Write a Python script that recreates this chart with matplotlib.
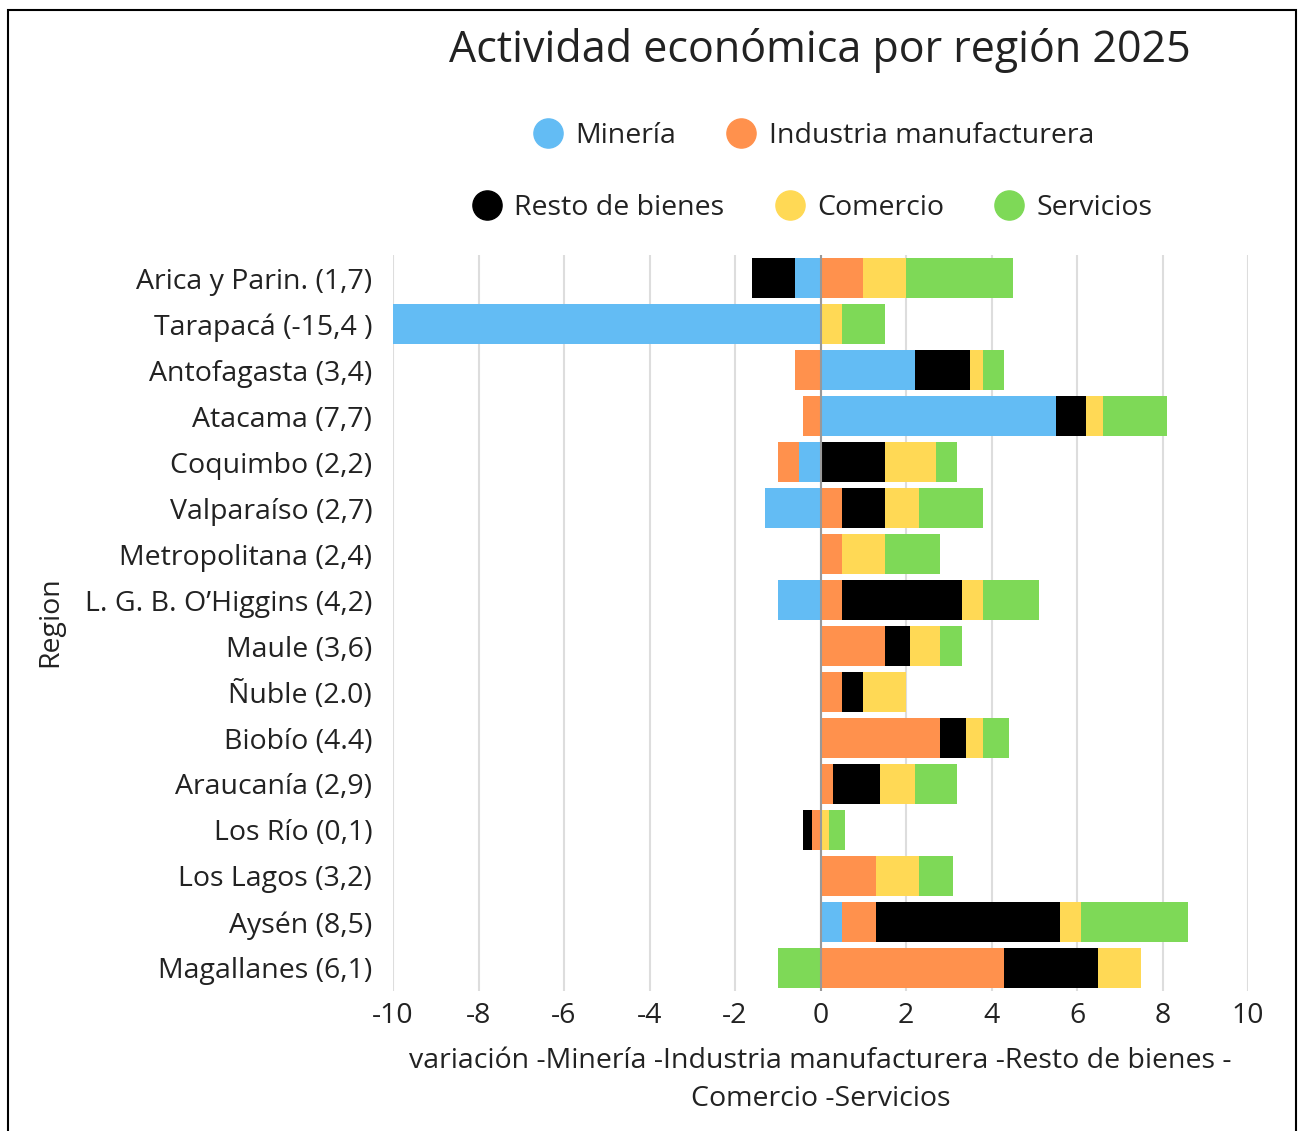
import matplotlib
matplotlib.use('Agg')
import matplotlib.pyplot as plt
from matplotlib.patches import Rectangle
from matplotlib.lines import Line2D
import numpy as np

plt.rcParams['font.family'] = ['Open Sans', 'DejaVu Sans']

regions = ['Arica y Parin. (1,7)', 'Tarapacá (-15,4 )', 'Antofagasta (3,4)', 'Atacama (7,7)',
           'Coquimbo (2,2)', 'Valparaíso (2,7)', 'Metropolitana (2,4)', 'L. G. B. O’Higgins (4,2)',
           'Maule (3,6)', 'Ñuble (2.0)', 'Biobío (4.4)', 'Araucanía (2,9)', 'Los Río (0,1)',
           'Los Lagos (3,2)', 'Aysén (8,5)', 'Magallanes (6,1)']

series_names = ['Minería', 'Industria manufacturera', 'Resto de bienes', 'Comercio', 'Servicios']
colors = ['#63BCF4', '#FF914D', '#000000', '#FFD955', '#7ED957']

mineria = [-0.6, -16.9, 2.2, 5.5, -0.5, -1.3, 0.0, -1.0, 0.0, 0.0, 0.0, 0.0, 0.0, 0.0, 0.5, 0.0]
industria = [1.0, 0.0, -0.6, -0.4, -0.5, 0.5, 0.5, 0.5, 1.5, 0.5, 2.8, 0.3, -0.2, 1.3, 0.8, 4.3]
resto = [-1.0, 0.0, 1.3, 0.7, 1.5, 1.0, 0.0, 2.8, 0.6, 0.5, 0.6, 1.1, -0.2, 0.0, 4.3, 2.2]
comercio = [1.0, 0.5, 0.3, 0.4, 1.2, 0.8, 1.0, 0.5, 0.7, 1.0, 0.4, 0.8, 0.2, 1.0, 0.5, 1.0]
servicios = [2.5, 1.0, 0.5, 1.5, 0.5, 1.5, 1.3, 1.3, 0.5, 0.0, 0.6, 1.0, 0.38, 0.8, 2.5, -1.0]

data = [mineria, industria, resto, comercio, servicios]
xticks = list(range(-10, 11, 2))

fs = 20.5
txt = '#222222'

fig = plt.figure(figsize=(12.98, 11.31), dpi=100)
ax = fig.add_axes([0.3028, 0.1238, 0.6587, 0.6507])

y = np.arange(len(regions))
pos = np.zeros(len(regions))
neg = np.zeros(len(regions))
for vals, name, c in zip(data, series_names, colors):
    v = np.array(vals)
    left = np.where(v >= 0, pos, neg)
    ax.barh(y, v, left=left, height=0.85, color=c, label=name, zorder=3)
    pos = pos + np.where(v > 0, v, 0)
    neg = neg + np.where(v < 0, v, 0)

ax.set_xlim(-10, 10)
ax.set_ylim(len(regions) - 0.5, -0.5)
ax.set_xticks(xticks)
ax.set_xticklabels([str(t) for t in xticks], fontsize=fs, color=txt)
ax.set_yticks(y)
ax.set_yticklabels(regions, fontsize=fs, color=txt)
ax.tick_params(length=0)
ax.tick_params(axis='y', pad=15)
ax.tick_params(axis='x', pad=8)
for s in ax.spines.values():
    s.set_visible(False)
ax.grid(axis='x', color='#dddddd', linewidth=1.5, zorder=0)
ax.axvline(0, color='#999999', linewidth=1.5, zorder=4)

ax.set_xlabel('variación -Minería -Industria manufacturera -Resto de bienes -\nComercio -Servicios',
              fontsize=fs, color=txt, labelpad=12, linespacing=1.5)
fig.text(0.039, 0.450, 'Region', rotation=90, fontsize=fs, color=txt, ha='center', va='center')

fig.text(0.632, 0.955, 'Actividad económica por región 2025', fontsize=31, color=txt,
         ha='center', va='center')

circ = [Line2D([], [], marker='o', linestyle='', markersize=21, color=c) for c in colors]
fig.legend(circ[:2], series_names[:2], loc='center', bbox_to_anchor=(0.627, 0.880),
           ncol=2, frameon=False, fontsize=fs, handlelength=1.0, columnspacing=1.8,
           handletextpad=0.45, labelcolor=txt)
fig.legend(circ[2:], series_names[2:], loc='center', bbox_to_anchor=(0.626, 0.816),
           ncol=3, frameon=False, fontsize=fs, handlelength=1.0, columnspacing=1.8,
           handletextpad=0.45, labelcolor=txt)

fig.patches.append(Rectangle((8 / 1298, -0.02), 1288 / 1298, 1.02 - 10 / 1131,
                             transform=fig.transFigure, fill=False, edgecolor='black',
                             linewidth=1.5, figure=fig))

fig.savefig('out.png', dpi=100)
